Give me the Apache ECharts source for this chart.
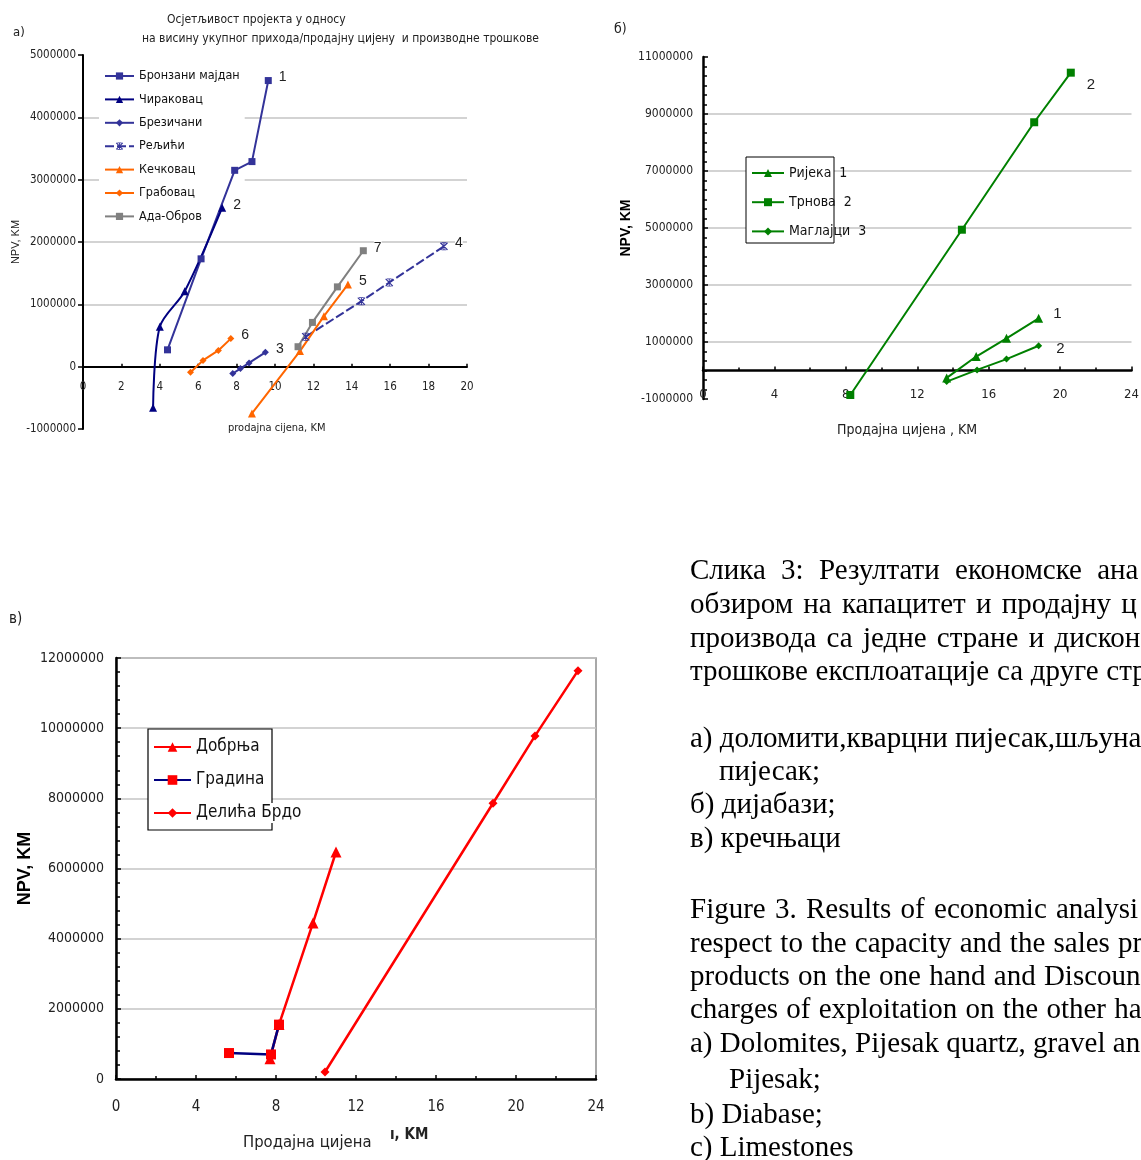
<!DOCTYPE html>
<html><head><meta charset="utf-8">
<script src="https://cdn.jsdelivr.net/npm/echarts@6/dist/echarts.min.js"></script>
<style>
html,body{margin:0;padding:0;background:#fff;overflow:hidden;}
#wrap{position:relative;width:1141px;height:1160px;overflow:hidden;background:#fff;}
#chart{position:absolute;left:0;top:0;width:1141px;height:1160px;}
.cap{position:absolute;white-space:pre;font-family:"Liberation Serif","Times New Roman",serif;color:#000;line-height:1;font-size:29px;}
</style></head><body>
<div id="wrap"><div id="chart"></div><div id="caption"></div></div>
<script>
// ---------- Chart а) data ----------
const aNames = ['Бронзани мајдан','Чираковац','Брезичани','Рељићи','Кечковац','Грабовац','Ада-Обров'];
const aEndLabels = ['1','2','3','4','5','6','7'];
const aBronzaniX = [4.4, 6.15, 7.9, 8.8, 9.65];
const aBronzaniY = [270000, 1730000, 3150000, 3290000, 4590000];
const aCirakovacX = [3.65, 4.0, 5.3, 7.25];
const aCirakovacY = [-660000, 640000, 1210000, 2550000];
const aBrezicaniX = [7.8, 8.2, 8.65, 9.5];
const aBrezicaniY = [-110000, -30000, 60000, 230000];
const aReljiciX = [11.6, 14.5, 15.95, 18.8];
const aReljiciY = [480000, 1050000, 1350000, 1930000];
const aKeckovacX = [8.8, 11.3, 12.55, 13.8];
const aKeckovacY = [-750000, 250000, 810000, 1320000];
const aGrabovacX = [5.6, 6.25, 7.05, 7.7];
const aGrabovacY = [-90000, 100000, 260000, 450000];
const aAdaX = [11.2, 11.95, 13.25, 14.6];
const aAdaY = [320000, 710000, 1280000, 1860000];
const aYRange = [-1000000, 5000000, 1000000];
const aXRange = [0, 20, 2];
const aTitle1 = 'Осјетљивост пројекта у односу';
const aTitle2 = 'на висину укупног прихода/продајну цијену  и производне трошкове';
const aXTitle = 'prodajna cijena, KM';

// ---------- Chart б) data ----------
const bNames = ['Ријека','Трнова','Маглајци'];
const bLegendNums = ['1','2','3'];
const bEndLabels = ['1','2','2'];
const bRijekaX = [13.65, 15.3, 17.0, 18.8];
const bRijekaY = [-260000, 490000, 1130000, 1830000];
const bTrnovaX = [8.25, 14.5, 18.55, 20.6];
const bTrnovaY = [-860000, 4940000, 8710000, 10450000];
const bMaglajciX = [13.65, 15.35, 17.0, 18.8];
const bMaglajciY = [-390000, 20000, 400000, 870000];
const bYRange = [-1000000, 11000000, 2000000];
const bXRange = [0, 24, 4];
const bXTitle = 'Продајна цијена , KM';

// ---------- Chart в) data ----------
const cNames = ['Добрња','Градина','Делића Брдо'];
const cDobrnjaX = [7.7, 8.15, 9.85, 11.0];
const cDobrnjaY = [580000, 1550000, 4450000, 6470000];
const cGradinaX = [5.65, 7.75, 8.15];
const cGradinaY = [740000, 700000, 1550000];
const cDelicaX = [10.45, 18.85, 20.95, 23.1];
const cDelicaY = [200000, 7860000, 9780000, 11640000];
const cYRange = [0, 12000000, 2000000];
const cXRange = [0, 24, 4];
const cXTitle1 = 'Продајна цијена';
const cXTitle2 = 'ı, KM';

const yTitle = 'NPV, KM';
const panelLetters = ['а)','б)','в)'];

// ---------- Caption text ----------
const capCyr = ['Слика 3: Резултати економске ана','обзиром на капацитет и продајну ц','производа са једне стране и дискон','трошкове експлоатације са друге стр','а) доломити,кварцни пијесак,шљуна','пијесак;','б) дијабази;','в) кречњаци'];
const capEn = ['Figure 3. Results of economic analysi','respect to the capacity and the sales pr','products on the one hand and Discoun','charges of exploitation on the other ha','a) Dolomites, Pijesak quartz, gravel an','Pijesak;','b) Diabase;','c) Limestones'];

// caption layout
const capCyrTop = [555, 589, 623, 656, 723, 756, 789, 823];
const capCyrLeft = [690, 690, 690, 690, 690, 719, 690, 690];
const capCyrWS = [8, 3, 3, 0.5, 0, 0, 0, 0];
const capEnTop = [894, 928, 961, 994, 1028, 1064, 1099, 1132];
const capEnLeft = [690, 690, 690, 690, 690, 729, 690, 690];
const capEnWS = [2, 1, 1, 1, 0, 0, 0, 0];
(function(){
  const host = document.getElementById('caption');
  function add(t, top, left, ws){
    const d = document.createElement('div');
    d.className = 'cap';
    d.style.top = top + 'px'; d.style.left = left + 'px'; d.style.wordSpacing = ws + 'px';
    d.textContent = t; host.appendChild(d);
  }
  capCyr.forEach((t,i)=>add(t, capCyrTop[i], capCyrLeft[i], capCyrWS[i]));
  capEn.forEach((t,i)=>add(t, capEnTop[i], capEnLeft[i], capEnWS[i]));
})();

// ---------- helpers ----------
const NAR = '"Liberation Sans Narrow","Arial Narrow","DejaVu Sans Condensed",sans-serif';
const SANS = '"Liberation Sans",Arial,sans-serif';
function pts(xs, ys, lab){
  return xs.map((x,i)=> (i===xs.length-1 && lab) ? {value:[x, ys[i]], label:{show:true, formatter: lab}} : [x, ys[i]]);
}
const ASTER = 'path://M0,1L1,0L10,9L9,10Z M9,0L10,1L1,10L0,9Z M4.4,0L5.6,0L5.6,10L4.4,10Z M2,0L8,0L8,1L2,1Z M2,9L8,9L8,10L2,10Z';
const fmt = v => String(v);

// grid boxes (layout)
const G = [
  {left:83, top:55, width:384, height:374},
  {left:703, top:57, width:428.5, height:342},
  {left:116, top:658, width:480, height:421}
];
// x axis sits at y = 0: offset (negative = into the grid) derived from the y range
function zeroOffset(g, yr){ return -g.height * (0 - yr[0]) / (yr[1] - yr[0]); }

function lineSeries(name, data, gi, color, symbol, size, extra){
  return Object.assign({
    type:'line', name, data, xAxisIndex:gi, yAxisIndex:gi,
    symbol, symbolSize:size, showAllSymbol:true, z:3,
    lineStyle:{color, width:2}, itemStyle:{color},
    label:{show:false, position:'right', distance:7, offset:[0,-3], fontFamily:SANS, fontSize:14, color:'#222', backgroundColor:'#fff'},
    emphasis:{disabled:true}, animation:false
  }, extra || {});
}
const bLab = (d, off) => ({label:{show:false, position:'right', distance:d, offset:off, fontFamily:SANS, fontSize:15, color:'#222'}});

const series = [
  lineSeries(aNames[0], pts(aBronzaniX, aBronzaniY, aEndLabels[0]), 0, '#333399', 'rect', 7),
  lineSeries(aNames[1], pts(aCirakovacX, aCirakovacY, aEndLabels[1]), 0, '#000080', 'triangle', 8, {smooth:0.3}),
  lineSeries(aNames[2], pts(aBrezicaniX, aBrezicaniY, aEndLabels[2]), 0, '#333399', 'diamond', 7),
  lineSeries(aNames[3], pts(aReljiciX, aReljiciY, aEndLabels[3]), 0, '#333399', ASTER, 8, {lineStyle:{color:'#333399', width:2, type:[9,3]}}),
  lineSeries(aNames[4], pts(aKeckovacX, aKeckovacY, aEndLabels[4]), 0, '#FF6600', 'triangle', 8),
  lineSeries(aNames[5], pts(aGrabovacX, aGrabovacY, aEndLabels[5]), 0, '#FF6600', 'diamond', 7),
  lineSeries(aNames[6], pts(aAdaX, aAdaY, aEndLabels[6]), 0, '#808080', 'rect', 7),

  lineSeries(bNames[0], pts(bRijekaX, bRijekaY, bEndLabels[0]), 1, '#008000', 'triangle', 9, bLab(10, [0,-4])),
  lineSeries(bNames[1], pts(bTrnovaX, bTrnovaY, bEndLabels[1]), 1, '#008000', 'rect', 8, bLab(12, [0,12])),
  lineSeries(bNames[2], pts(bMaglajciX, bMaglajciY, bEndLabels[2]), 1, '#008000', 'diamond', 7, bLab(14, [0,3])),

  lineSeries(cNames[0], pts(cDobrnjaX, cDobrnjaY), 2, '#FF0000', 'triangle', 11, {lineStyle:{color:'#FF0000', width:2.5}}),
  lineSeries(cNames[1], pts(cGradinaX, cGradinaY), 2, '#000080', 'rect', 10, {lineStyle:{color:'#000080', width:2.5}, itemStyle:{color:'#FF0000'}}),
  lineSeries(cNames[2], pts(cDelicaX, cDelicaY), 2, '#FF0000', 'diamond', 9, {lineStyle:{color:'#FF0000', width:2.5}})
];

const GRID_LINE = {show:true, lineStyle:{color:'#c4c4c4', width:1.5}, showMinLine:false, showMaxLine:false};
const TICK = w => ({color:'#000', width:w});

const option = {
  animation:false,
  backgroundColor:'#fff',
  textStyle:{fontFamily:SANS},
  grid:[
    Object.assign({outerBoundsMode:'none', containLabel:false}, G[0]),
    Object.assign({outerBoundsMode:'none', containLabel:false}, G[1]),
    Object.assign({outerBoundsMode:'none', containLabel:false, show:true, borderColor:'#8c8c8c', borderWidth:1.5, backgroundColor:'rgba(0,0,0,0)'}, G[2])
  ],
  xAxis:[
    {gridIndex:0, type:'value', min:aXRange[0], max:aXRange[1], interval:aXRange[2],
     position:'bottom', offset:zeroOffset(G[0], aYRange),
     axisLine:{onZero:false, lineStyle:TICK(2)},
     axisTick:{inside:true, length:3, lineStyle:TICK(1.5)},
     axisLabel:{margin:14, fontFamily:NAR, fontSize:11.5, color:'#222', formatter:fmt},
     splitLine:{show:false}},
    {gridIndex:1, type:'value', min:bXRange[0], max:bXRange[1], interval:bXRange[2],
     position:'bottom', offset:zeroOffset(G[1], bYRange),
     axisLine:{onZero:false, lineStyle:TICK(2.5)},
     axisTick:{inside:true, length:4, lineStyle:TICK(1.5)},
     minorTick:{show:true, splitNumber:2, length:3, lineStyle:TICK(1.5)},
     axisLabel:{margin:18, fontFamily:NAR, fontSize:13, color:'#222', formatter:fmt},
     splitLine:{show:false}},
    {gridIndex:2, type:'value', min:cXRange[0], max:cXRange[1], interval:cXRange[2],
     axisLine:{onZero:false, lineStyle:TICK(2.5)},
     axisTick:{inside:true, length:4, lineStyle:TICK(1.5)},
     minorTick:{show:true, splitNumber:2, length:3, lineStyle:TICK(1.5)},
     axisLabel:{margin:21, fontFamily:NAR, fontSize:15, color:'#222', formatter:fmt},
     splitLine:{show:false}}
  ],
  yAxis:[
    {gridIndex:0, type:'value', min:aYRange[0], max:aYRange[1], interval:aYRange[2],
     axisLine:{show:true, onZero:false, lineStyle:TICK(2)},
     axisTick:{show:true, inside:false, length:5, lineStyle:TICK(1.5)},
     axisLabel:{margin:7, fontFamily:NAR, fontSize:11.5, color:'#222', formatter:fmt},
     splitLine:GRID_LINE,
     name:yTitle, nameLocation:'middle', nameRotate:90, nameGap:62,
     nameTextStyle:{fontFamily:SANS, fontSize:11, color:'#222'}},
    {gridIndex:1, type:'value', min:bYRange[0], max:bYRange[1], interval:bYRange[2],
     axisLine:{show:true, onZero:false, lineStyle:TICK(2.5)},
     axisTick:{show:true, inside:true, length:5, lineStyle:TICK(1.5)},
     minorTick:{show:true, splitNumber:6, length:4, lineStyle:TICK(1.5)},
     axisLabel:{margin:10, fontFamily:NAR, fontSize:12, color:'#222', formatter:fmt},
     splitLine:GRID_LINE,
     name:yTitle, nameLocation:'middle', nameRotate:90, nameGap:70,
     nameTextStyle:{fontFamily:SANS, fontSize:14, fontWeight:'bold', color:'#000'}},
    {gridIndex:2, type:'value', min:cYRange[0], max:cYRange[1], interval:cYRange[2],
     axisLine:{show:true, onZero:false, lineStyle:TICK(2.5)},
     axisTick:{show:true, inside:true, length:5, lineStyle:TICK(1.5)},
     minorTick:{show:true, splitNumber:5, length:4, lineStyle:TICK(1.5)},
     axisLabel:{margin:12, fontFamily:NAR, fontSize:14, color:'#222', formatter:fmt},
     splitLine:{show:true, lineStyle:{color:'#c4c4c4', width:1.5}, showMinLine:false},
     name:yTitle, nameLocation:'middle', nameRotate:90, nameGap:82,
     nameTextStyle:{fontFamily:SANS, fontSize:18, fontWeight:'bold', color:'#000'}}
  ],
  legend:[
    {data:aNames, orient:'vertical', left:99, top:63, padding:5, itemGap:7.4, itemWidth:29, itemHeight:9,
     backgroundColor:'#fff', z:1, selectedMode:false,
     textStyle:{fontFamily:NAR, fontSize:12.5, lineHeight:16, color:'#111'}},
    {data:bNames, orient:'vertical', left:751, top:164, padding:0, itemGap:11.2, itemWidth:32, itemHeight:10,
     z:2, selectedMode:false,
     formatter: n => n + '  ' + bLegendNums[bNames.indexOf(n)],
     textStyle:{fontFamily:NAR, fontSize:14, lineHeight:18, color:'#111'}},
    {data:cNames, orient:'vertical', left:153, top:737, padding:0, itemGap:13, itemWidth:37, itemHeight:12,
     z:2, selectedMode:false,
     textStyle:{fontFamily:NAR, fontSize:17, lineHeight:20, color:'#111', backgroundColor:'#fff'}}
  ],
  graphic:[
    {type:'text', x:13, y:26, style:{text:panelLetters[0], font:'13px '+NAR, fill:'#222'}},
    {type:'text', x:614, y:22, style:{text:panelLetters[1], font:'14px '+NAR, fill:'#222'}},
    {type:'text', x:9, y:612, style:{text:panelLetters[2], font:'15px '+NAR, fill:'#222'}},
    {type:'text', x:167, y:14, style:{text:aTitle1, font:'12px '+NAR, fill:'#222'}},
    {type:'text', x:142, y:33, style:{text:aTitle2, font:'12px '+NAR, fill:'#222'}},
    {type:'text', x:228, y:423, style:{text:aXTitle, font:'11px '+NAR, fill:'#222'}},
    {type:'text', x:837, y:423, style:{text:bXTitle, font:'14px '+NAR, fill:'#222'}},
    {type:'text', x:243, y:1134, style:{text:cXTitle1, font:'16.5px '+NAR, fill:'#222'}},
    {type:'text', x:390, y:1128, style:{text:cXTitle2, font:'bold 15px '+NAR, fill:'#222'}},
    {type:'rect', z:1, shape:{x:746, y:157, width:88, height:86}, style:{fill:'#fff', stroke:'#000', lineWidth:1}},
    {type:'rect', z:1, shape:{x:148, y:729, width:124, height:101}, style:{fill:'#fff', stroke:'#000', lineWidth:1.2}}
  ],
  series
};

const chart = echarts.init(document.getElementById('chart'), null, {renderer:'canvas'});
chart.setOption(option);
</script>
</body></html>
